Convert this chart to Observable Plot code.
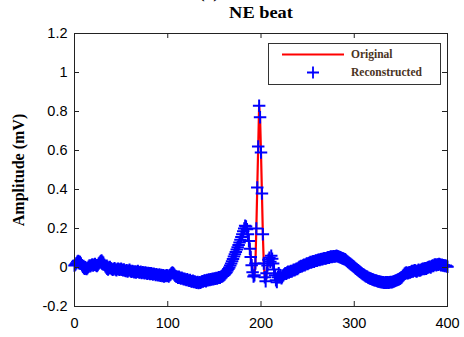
<!DOCTYPE html>
<html>
<head>
<meta charset="utf-8">
<script src="https://cdn.jsdelivr.net/npm/d3@7"></script>
<script src="https://cdn.jsdelivr.net/npm/@observablehq/plot@0.6"></script>
<style>
  html, body { margin: 0; padding: 0; background: #fff; }
  #wrap { position: relative; width: 464px; height: 337px; overflow: hidden; background: #fff; }
  .ttl { position: absolute; font-family: "Liberation Serif", "Times New Roman", serif; font-weight: bold; color: #000; white-space: nowrap; }
  #legend { position: absolute; left: 268px; top: 43px; width: 171px; height: 40px; border: 1px solid #333; background: #fff; }
  #legend .lt { position: absolute; left: 82px; font-family: "Liberation Serif", "Times New Roman", serif; font-weight: bold; font-size: 11.5px; color: #4a3423; white-space: nowrap; line-height: 1; }
</style>
</head>
<body>
<div id="wrap"></div>
<script>
// ---- data ----
const xTicks = [0, 100, 200, 300, 400];
const yTicks = [-0.2, 0, 0.2, 0.4, 0.6, 0.8, 1, 1.2];
const titleText = "NE beat";
const yLabel = "Amplitude (mV)";
const seriesNames = ["Original", "Reconstructed"];

// amplitude (mV) per sample, samples 0..400
const original = [
  0.010, 0.015, 0.022, 0.030, 0.034, 0.030, 0.028, 0.020, 0.012, 0.004,
  -0.002, -0.006, -0.004, -0.008, -0.003, 0.004, 0.010, 0.006, 0.012, 0.016,
  0.010, 0.014, 0.018, 0.012, 0.008, 0.013, 0.020, 0.026, 0.032, 0.036,
  0.030, 0.024, 0.014, 0.006, 0.000, -0.006, -0.010, -0.004, 0.002, -0.004,
  -0.008, -0.012, -0.008, -0.004, -0.010, -0.014, -0.008, -0.006, -0.012, -0.010,
  -0.006, -0.012, -0.014, -0.010, -0.016, -0.018, -0.014, -0.020, -0.016, -0.012,
  -0.018, -0.022, -0.018, -0.020, -0.024, -0.020, -0.026, -0.022, -0.018, -0.024,
  -0.026, -0.022, -0.028, -0.024, -0.026, -0.030, -0.026, -0.028, -0.032, -0.028,
  -0.030, -0.034, -0.030, -0.032, -0.036, -0.032, -0.034, -0.038, -0.034, -0.038,
  -0.040, -0.036, -0.042, -0.038, -0.044, -0.040, -0.046, -0.042, -0.044, -0.040,
  -0.042, -0.046, -0.040, -0.036, -0.030, -0.026, -0.030, -0.036, -0.042, -0.046,
  -0.048, -0.052, -0.048, -0.052, -0.056, -0.052, -0.056, -0.060, -0.058, -0.062,
  -0.064, -0.060, -0.066, -0.068, -0.064, -0.070, -0.072, -0.068, -0.074, -0.072,
  -0.076, -0.078, -0.074, -0.080, -0.076, -0.078, -0.074, -0.070, -0.072, -0.068,
  -0.066, -0.070, -0.064, -0.066, -0.062, -0.064, -0.060, -0.062, -0.058, -0.060,
  -0.056, -0.058, -0.054, -0.056, -0.052, -0.050, -0.052, -0.048, -0.046, -0.044,
  -0.040, -0.036, -0.030, -0.024, -0.016, -0.008, 0.000, 0.010, 0.020, 0.032,
  0.044, 0.056, 0.068, 0.080, 0.092, 0.104, 0.116, 0.128, 0.142, 0.156,
  0.170, 0.186, 0.200, 0.214, 0.210, 0.196, 0.170, 0.136, 0.096, 0.054,
  0.012, -0.024, -0.046, -0.040, 0.020, 0.200, 0.410, 0.620, 0.830, 0.770,
  0.590, 0.380, 0.170, 0.020, -0.050, -0.070, -0.030, 0.010, 0.040, 0.050,
  0.030, 0.060, 0.045, 0.020, -0.010, -0.040, -0.065, -0.075, -0.050, -0.030,
  -0.050, -0.040, -0.055, -0.044, -0.040, -0.034, -0.030, -0.032, -0.026, -0.022,
  -0.026, -0.022, -0.018, -0.020, -0.016, -0.012, -0.014, -0.010, -0.006, -0.008,
  -0.002, 0.002, 0.004, 0.008, 0.006, 0.010, 0.014, 0.012, 0.016, 0.020,
  0.018, 0.022, 0.024, 0.028, 0.026, 0.030, 0.032, 0.030, 0.034, 0.036,
  0.034, 0.038, 0.040, 0.038, 0.042, 0.044, 0.042, 0.046, 0.048, 0.046,
  0.048, 0.050, 0.052, 0.050, 0.054, 0.056, 0.054, 0.056, 0.058, 0.056,
  0.058, 0.060, 0.058, 0.056, 0.054, 0.052, 0.050, 0.048, 0.046, 0.044,
  0.042, 0.038, 0.034, 0.030, 0.026, 0.022, 0.018, 0.014, 0.010, 0.006,
  0.002, -0.002, -0.006, -0.010, -0.014, -0.018, -0.022, -0.026, -0.030, -0.034,
  -0.036, -0.040, -0.044, -0.046, -0.048, -0.052, -0.054, -0.056, -0.058, -0.060,
  -0.062, -0.064, -0.066, -0.066, -0.068, -0.070, -0.072, -0.072, -0.074, -0.074,
  -0.076, -0.076, -0.078, -0.078, -0.076, -0.078, -0.076, -0.078, -0.076, -0.074,
  -0.076, -0.074, -0.072, -0.070, -0.068, -0.066, -0.064, -0.062, -0.060, -0.058,
  -0.054, -0.050, -0.044, -0.038, -0.032, -0.028, -0.026, -0.030, -0.028, -0.024,
  -0.026, -0.022, -0.018, -0.020, -0.016, -0.014, -0.018, -0.020, -0.016, -0.012,
  -0.016, -0.014, -0.010, -0.008, -0.006, -0.008, -0.004, -0.006, -0.002, 0.000,
  0.002, 0.004, 0.000, 0.006, 0.010, 0.008, 0.014, 0.016, 0.012, 0.016,
  0.014, 0.018, 0.016, 0.012, 0.014, 0.010, 0.012, 0.008, 0.010, 0.006,
  0.004
];
// the reconstruction overlays the original almost exactly
const reconstructed = original;
const sampleIndex = d3.range(original.length);

// ---- build ----
const W = 464, H = 337;
const mL = 74, mR = 17, mT = 33, mB = 31;
const innerW = W - mL - mR, innerH = H - mT - mB;
const rows = sampleIndex.map((t, i) => ({t, orig: original[i], rec: reconstructed[i]}));
const fmtY = d => String(+d.toFixed(1));
const axisColor = "#222";

const chart = Plot.plot({
  width: W, height: H,
  marginLeft: mL, marginRight: mR, marginTop: mT, marginBottom: mB,
  x: {domain: [0, 400]},
  y: {domain: [-0.2, 1.2]},
  style: {fontFamily: '"Liberation Sans", Arial, sans-serif', fontSize: "14.5px", color: "#000", background: "transparent", overflow: "visible"},
  marks: [
    Plot.line(rows, {x: "t", y: "orig", stroke: "#ff0000", strokeWidth: 2.2}),
    Plot.dot(rows, {x: "t", y: "rec", symbol: "plus", r: 4.1, stroke: "#0000ff", strokeWidth: 2}),
    Plot.frame({stroke: axisColor, strokeWidth: 1}),
    Plot.tickX(xTicks, {x: d => d, insetTop: innerH - 5, stroke: axisColor}),
    Plot.tickX(xTicks, {x: d => d, insetBottom: innerH - 5, stroke: axisColor}),
    Plot.tickY(yTicks, {y: d => d, insetRight: innerW - 5, stroke: axisColor}),
    Plot.tickY(yTicks, {y: d => d, insetLeft: innerW - 5, stroke: axisColor}),
    Plot.axisX({ticks: xTicks, tickSize: 0, tickPadding: 11, label: null, tickFormat: d => String(d)}),
    Plot.axisY({ticks: yTicks, tickSize: 0, tickPadding: 7, label: null, tickFormat: fmtY})
  ]
});

const wrap = document.getElementById("wrap");
wrap.appendChild(chart);

// panel tag (cut at the top edge in the reference)
const tag = document.createElement("div");
tag.className = "ttl";
tag.textContent = "(a)";
tag.style.cssText = "left:199px; top:-17px; font-size:17px;";
wrap.appendChild(tag);

// title
const title = document.createElement("div");
title.className = "ttl";
title.textContent = titleText;
title.style.cssText = "left:" + (mL + innerW / 2) + "px; top:3px; font-size:17px; transform:translateX(-50%) scaleX(1.08);";
wrap.appendChild(title);

// y label
const yl = document.createElement("div");
yl.className = "ttl";
yl.textContent = yLabel;
yl.style.cssText = "left:19px; top:" + (mT + innerH / 2) + "px; font-size:16px; transform:translate(-50%,-50%) rotate(-90deg);";
wrap.appendChild(yl);

// legend
const lg = document.createElement("div");
lg.id = "legend";
lg.innerHTML =
  '<svg width="171" height="40" style="position:absolute;left:0;top:0">' +
  '<line x1="13" y1="10.5" x2="75" y2="10.5" stroke="#ff0000" stroke-width="2"/>' +
  '<path d="M38,28.5H50M44,22.5V34.5" stroke="#0000ff" stroke-width="1.8" fill="none"/>' +
  '</svg>' +
  '<div class="lt" style="top:5px">' + seriesNames[0] + '</div>' +
  '<div class="lt" style="top:23px">' + seriesNames[1] + '</div>';
wrap.appendChild(lg);
</script>
</body>
</html>
